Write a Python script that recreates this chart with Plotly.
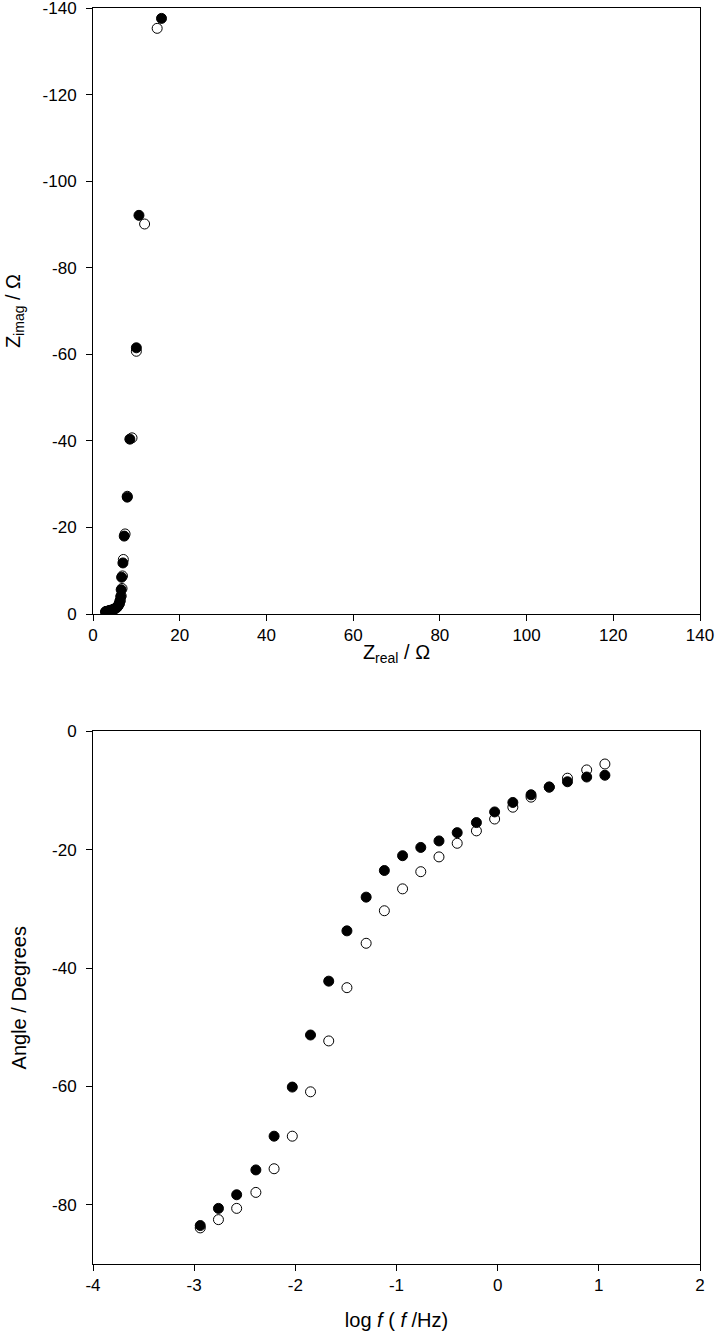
import plotly.graph_objects as go
from plotly.subplots import make_subplots

# Nyquist data (ohm), low frequency first
zreal_filled = [15.8, 10.6, 10.0, 8.5, 7.9, 7.2, 6.9, 6.6, 6.5, 6.4, 6.2, 6.0, 5.7, 5.4, 5.0,
                4.6, 4.2, 3.9, 3.6, 3.4, 3.2, 3.0, 2.9]
zimag_filled = [-137.6, -92.1, -61.5, -40.4, -27.0, -18.0, -11.8, -8.5, -5.6, -4.0, -3.0, -2.3,
                -1.8, -1.5, -1.2, -1.0, -0.9, -0.8, -0.7, -0.65, -0.6, -0.55, -0.5]
zreal_open = [14.8, 11.9, 10.0, 9.0, 7.9, 7.4, 7.0, 6.8, 6.7, 6.5, 6.3, 6.1, 5.8, 5.5, 5.1,
              4.7, 4.3, 4.0, 3.7, 3.5, 3.3, 3.1, 2.95]
zimag_open = [-135.3, -90.1, -60.7, -40.7, -27.2, -18.5, -12.6, -8.8, -5.9, -4.2, -3.1, -2.4,
              -1.9, -1.5, -1.25, -1.05, -0.9, -0.8, -0.72, -0.66, -0.6, -0.56, -0.52]

# Bode phase data
logf = [-2.94, -2.76, -2.58, -2.39, -2.21, -2.03, -1.85, -1.67, -1.49, -1.30, -1.12, -0.94,
        -0.76, -0.58, -0.40, -0.21, -0.03, 0.15, 0.33, 0.51, 0.69, 0.88, 1.06]
angle_filled = [-83.5, -80.6, -78.3, -74.1, -68.4, -60.1, -51.3, -42.2, -33.7, -28.0, -23.5, -21.0,
                -19.6, -18.5, -17.1, -15.4, -13.6, -12.0, -10.7, -9.4, -8.5, -7.7, -7.4]
angle_open = [-83.9, -82.5, -80.6, -77.9, -73.9, -68.4, -60.9, -52.3, -43.3, -35.8, -30.3, -26.6,
              -23.7, -21.2, -18.9, -16.8, -14.8, -12.8, -11.1, -9.4, -7.9, -6.5, -5.5]

# tick labels (plain hyphen like the original)
zr_ticks = [0, 20, 40, 60, 80, 100, 120, 140]
zi_ticks = [0, -20, -40, -60, -80, -100, -120, -140]
lf_ticks = [-4, -3, -2, -1, 0, 1, 2]
ang_ticks = [0, -20, -40, -60, -80]

fig = make_subplots(rows=2, cols=1)

open_mk = dict(symbol='circle', size=10, color='white', line=dict(color='black', width=1))
fill_mk = dict(symbol='circle', size=10, color='black', line=dict(color='black', width=1))

fig.add_trace(go.Scatter(x=zreal_open, y=zimag_open, mode='markers', marker=open_mk), row=1, col=1)
fig.add_trace(go.Scatter(x=zreal_filled, y=zimag_filled, mode='markers', marker=fill_mk), row=1, col=1)
fig.add_trace(go.Scatter(x=logf, y=angle_open, mode='markers', marker=open_mk), row=2, col=1)
fig.add_trace(go.Scatter(x=logf, y=angle_filled, mode='markers', marker=fill_mk), row=2, col=1)

fnt = 'Liberation Sans, Arial'
ax = dict(showline=True, linecolor='black', linewidth=1, mirror=True, ticks='outside',
          ticklen=6, tickcolor='black', showgrid=False, zeroline=False, automargin=False,
          ticklabeloverflow='allow',
          tickfont=dict(family=fnt, size=17, color='black'))

fig.update_xaxes(ax)
fig.update_yaxes(ax, ticklabelstandoff=6)

def lab(v):
    return [str(t) for t in v]

fig.update_xaxes(range=[0, 140], tickvals=zr_ticks, ticktext=lab(zr_ticks), domain=[0, 1], row=1, col=1,
                 title=dict(text='Z<sub>real</sub> / Ω', standoff=0,
                            font=dict(family=fnt, size=20, color='black')))
fig.update_yaxes(range=[0, -140], tickvals=zi_ticks, ticktext=lab(zi_ticks), domain=[0.5175, 1], row=1, col=1,
                 title=dict(text='Z<sub>imag</sub> / Ω', standoff=16,
                            font=dict(family=fnt, size=20, color='black')))
fig.update_xaxes(range=[-4, 2], tickvals=lf_ticks, ticktext=lab(lf_ticks), row=2, col=1,
                 title=dict(text='log <i>f</i> ( <i>f</i> /Hz)', standoff=18,
                            font=dict(family=fnt, size=20, color='black')))
fig.update_yaxes(range=[-90, 0], tickvals=ang_ticks, ticktext=lab(ang_ticks), domain=[0, 0.424], row=2, col=1,
                 title=dict(text='Angle / Degrees', standoff=20,
                            font=dict(family=fnt, size=20, color='black')))

fig.update_layout(width=716, height=1336, showlegend=False,
                  margin=dict(l=93, r=16, t=8, b=72),
                  plot_bgcolor='white', paper_bgcolor='white')

fig.write_html("out.html", config={'displayModeBar': False},
               post_script="document.body.style.margin='0';")
